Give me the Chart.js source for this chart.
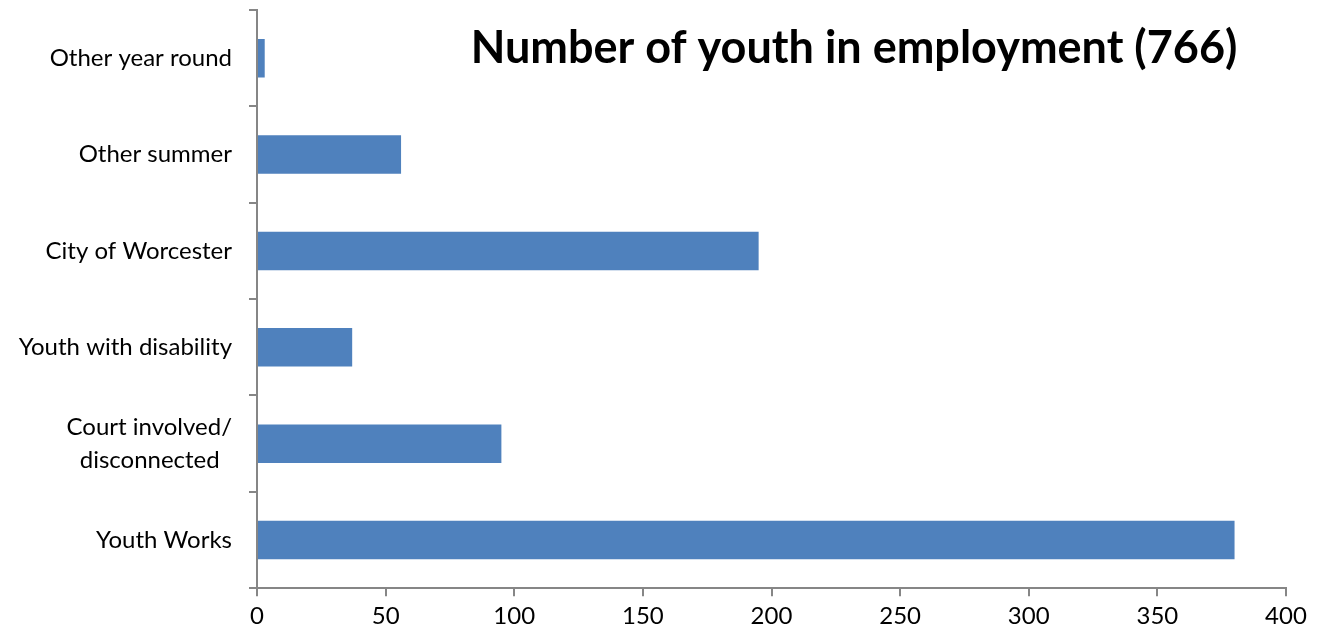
<!DOCTYPE html>
<html>
<head>
<meta charset="utf-8">
<script src="https://cdn.jsdelivr.net/npm/chart.js@4"></script>
<style>
  html, body { margin: 0; padding: 0; background: #fff; }
  #wrap { width: 1325px; height: 637px; }
</style>
</head>
<body>
<div id="wrap"><canvas id="c"></canvas></div>
<script>
const categories = ['Other year round', 'Other summer', 'City of Worcester', 'Youth with disability', ['Court involved/', 'disconnected  '], 'Youth Works'];
const youthCounts = [3, 56, 195, 37, 95, 380];
const chartTitle = 'Number of youth in employment (766)';

const axisGrey = '#868686';
const barBlue = '#4f81bd';
const fontFamily = 'Lato, "Open Sans", sans-serif';

// title sits inside the plot area, top right
const innerTitle = {
  id: 'innerTitle',
  afterDraw(chart) {
    const ctx = chart.ctx;
    ctx.save();
    ctx.font = 'bold 45px ' + fontFamily;
    ctx.fillStyle = '#000';
    ctx.textAlign = 'center';
    ctx.textBaseline = 'middle';
    ctx.fillText(chartTitle, 854, 48);
    ctx.restore();
  }
};

new Chart(document.getElementById('c'), {
  type: 'bar',
  data: {
    labels: categories,
    datasets: [{
      data: youthCounts,
      backgroundColor: barBlue,
      barPercentage: 0.4,
      categoryPercentage: 1
    }]
  },
  plugins: [innerTitle],
  options: {
    indexAxis: 'y',
    responsive: true,
    maintainAspectRatio: false,
    animation: false,
    layout: { padding: { top: 10, right: 39, left: 7, bottom: 0 } },
    scales: {
      x: {
        min: 0,
        max: 400,
        ticks: { stepSize: 50, color: '#000', font: { family: fontFamily, size: 24 }, padding: 6 },
        grid: { drawOnChartArea: false, color: axisGrey, tickLength: 8, lineWidth: 2 },
        border: { color: axisGrey, width: 2 },
        afterFit(scale) { scale.paddingLeft = 0; scale.paddingRight = 0; }
      },
      y: {
        ticks: { color: '#000', font: { family: fontFamily, size: 24, lineHeight: 1.35 }, padding: 17 },
        grid: { drawOnChartArea: false, offset: true, color: axisGrey, tickLength: 8, lineWidth: 2 },
        border: { color: axisGrey, width: 2 },
        afterFit(scale) { scale.width = 250; scale.paddingTop = 0; scale.paddingBottom = 0; }
      }
    },
    plugins: {
      legend: { display: false },
      tooltip: { enabled: false }
    }
  }
});
</script>
</body>
</html>
